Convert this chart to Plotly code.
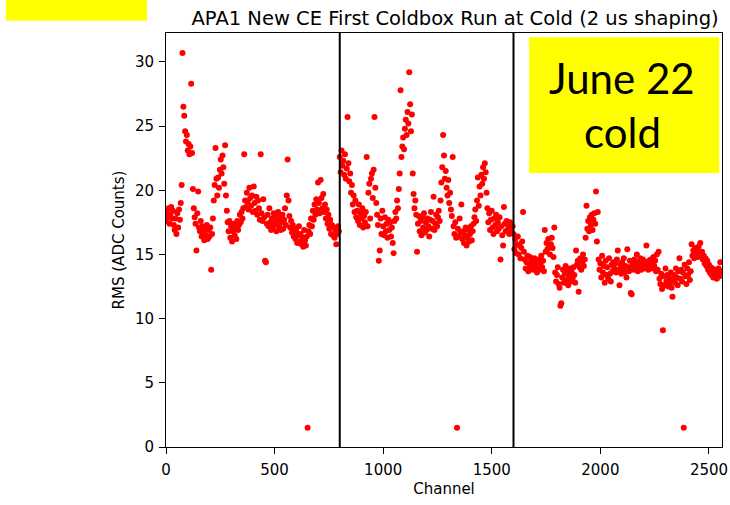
import plotly.graph_objects as go

# RMS noise (ADC counts) of every 4th channel, one list per wire plane
channel_step = 4
plane_starts = [0, 800, 1600]
plane_boundaries = [800, 1600]

u_plane_rms = [
    17.6, 18.3, 17.9, 18.6, 17.4, 18.1, 18.7, 17.8, 18.4, 17.3,   # 0-36
    16.9, 17.8, 16.6, 18.2, 17.1, 18.5, 17.7, 19.0, 20.4, 30.7,   # 40-76
    26.5, 25.8, 24.6, 23.8, 24.3, 23.1, 23.6, 22.8, 23.4, 28.3,   # 80-116
    22.9, 20.1, 18.6, 17.9, 17.4, 15.3, 18.2, 19.9, 17.1, 16.8,   # 120-156
    17.6, 16.4, 17.2, 16.7, 16.1, 17.0, 16.5, 17.3, 16.2, 16.9,   # 160-196
    16.4, 17.1, 13.8, 16.6, 17.8, 19.2, 20.4, 23.3, 20.9, 19.6,   # 200-236
    21.0, 20.2, 21.6, 22.4, 21.3, 22.7, 21.8, 20.5, 23.5, 19.6,   # 240-276
    18.4, 17.5, 16.8, 17.6, 16.3, 17.2, 16.0, 16.8, 17.4, 16.5,   # 280-316
    17.0, 16.2, 17.6, 16.9, 17.3, 18.1, 17.5, 18.3, 17.8, 18.6,   # 320-356
    22.8, 19.2, 18.7, 19.8, 19.1, 18.5, 20.2, 19.4, 18.8, 19.6,   # 360-396
    18.3, 20.3, 19.0, 18.4, 19.5, 18.1, 19.2, 18.6, 17.7, 22.8,   # 400-436
    18.2, 17.6, 19.3, 17.9, 14.5, 14.4, 17.4, 18.1, 17.2, 18.6,   # 440-476
    17.5, 16.9, 17.8, 17.1, 18.2, 17.4, 18.0, 16.8, 17.6, 18.3,   # 480-516
    17.2, 17.9, 16.9, 17.5, 18.1, 17.0, 17.7, 18.6, 17.3, 19.6,   # 520-556
    22.4, 19.2, 18.0, 17.1, 17.6, 16.7, 17.3, 16.4, 17.0, 16.2,   # 560-596
    16.8, 15.9, 16.5, 17.2, 16.0, 16.6, 15.8, 16.3, 15.6, 16.9,   # 600-636
    16.1, 15.7, 16.4, 1.5, 16.8, 17.3, 16.6, 17.8, 17.2, 18.4,    # 640-676
    17.7, 18.9, 18.1, 19.3, 18.5, 20.6, 19.0, 18.2, 20.8, 19.4,   # 680-716
    18.6, 19.7, 18.3, 18.9, 17.8, 18.5, 17.4, 18.1, 17.0, 17.7,   # 720-756
    16.6, 17.3, 16.5, 17.1, 16.3, 16.9, 15.8, 16.6, 17.2, 16.8,   # 760-796
]

v_plane_rms = [
    22.6, 21.4, 23.1, 21.9, 22.3, 21.2, 22.8, 20.9, 21.7, 25.7,   # 800-836
    22.1, 20.7, 21.3, 19.8, 20.4, 18.9, 19.6, 18.3, 19.2, 17.9,   # 840-876
    18.4, 17.6, 18.9, 17.3, 18.2, 17.8, 18.6, 17.1, 18.0, 17.5,   # 880-916
    18.3, 22.6, 17.2, 19.8, 20.5, 17.8, 20.9, 21.3, 19.4, 21.6,   # 920-956
    25.7, 20.2, 19.0, 18.1, 17.3, 14.5, 15.3, 17.8, 16.6, 18.4,   # 960-996
    17.2, 16.5, 17.9, 16.8, 17.4, 16.3, 17.7, 16.9, 17.5, 16.4,   # 1000-1036
    17.1, 15.9, 15.1, 17.6, 18.3, 17.8, 19.2, 18.6, 20.1, 21.3,   # 1040-1076
    27.8, 22.6, 23.4, 24.1, 23.2, 24.8, 25.5, 24.3, 26.1, 25.2,   # 1080-1116
    29.2, 26.7, 24.6, 25.9, 21.3, 19.7, 18.6, 19.2, 18.1, 15.2,   # 1120-1156
    17.4, 18.0, 16.8, 17.6, 16.5, 17.9, 17.1, 18.2, 16.7, 17.5,   # 1160-1196
    16.9, 17.8, 17.2, 16.4, 17.7, 18.3, 17.0, 17.6, 19.5, 16.9,   # 1200-1236
    17.4, 18.1, 17.2, 17.9, 18.4, 17.6, 19.2, 20.6, 21.8, 24.3,   # 1240-1276
    22.7, 20.9, 21.5, 20.2, 19.6, 20.8, 19.0, 19.8, 18.5, 18.0,   # 1280-1316
    22.6, 17.2, 16.6, 17.5, 16.3, 1.5, 17.0, 16.4, 17.8, 16.7,    # 1320-1356
    18.9, 16.2, 16.8, 15.9, 16.5, 17.1, 15.7, 16.3, 16.9, 16.0,   # 1360-1396
    16.6, 17.2, 16.1, 16.8, 17.4, 17.9, 18.5, 17.6, 19.2, 21.0,   # 1400-1436
    18.8, 20.3, 19.6, 21.2, 20.5, 21.8, 20.9, 22.1, 21.4, 19.8,   # 1440-1476
    18.6, 17.5, 18.2, 16.9, 17.7, 18.4, 17.1, 16.6, 17.8, 17.3,   # 1480-1516
    18.1, 16.8, 17.5, 17.0, 17.9, 14.6, 17.2, 16.5, 15.7, 18.7,   # 1520-1556
    17.4, 16.8, 17.6, 16.9, 17.3, 16.6, 17.5, 17.0, 16.7, 17.2,   # 1560-1596
]

x_plane_rms = [
    16.6, 15.4, 16.2, 15.1, 15.8, 16.4, 15.0, 15.7, 14.7, 15.5,   # 1600-1636
    16.0, 18.3, 15.2, 14.6, 13.9, 14.4, 14.9, 13.7, 14.3, 14.8,   # 1640-1676
    14.0, 14.5, 13.8, 14.2, 14.7, 13.9, 14.4, 13.6, 14.1, 14.6,   # 1680-1716
    13.8, 14.3, 14.9, 14.0, 14.5, 13.7, 16.9, 15.2, 15.9, 15.4,   # 1720-1756
    16.2, 15.6, 15.0, 15.8, 16.3, 15.5, 14.8, 17.1, 13.6, 12.9,   # 1760-1796
    13.4, 14.0, 12.7, 12.4, 11.0, 11.2, 13.2, 13.8, 12.8, 13.5,   # 1800-1836
    14.1, 13.0, 13.7, 12.6, 13.3, 13.9, 12.9, 13.6, 13.1, 14.0,   # 1840-1876
    13.4, 12.8, 15.3, 14.2, 14.5, 12.1, 14.0, 14.7, 13.8, 14.4,   # 1880-1916
    15.0, 14.1, 14.6, 16.3, 18.8, 17.0, 17.6, 16.8, 17.9, 17.3,   # 1920-1956
    18.1, 16.9, 17.7, 18.2, 17.4, 19.9, 16.0, 18.3, 14.6, 13.8,   # 1960-1996
    14.3, 13.2, 14.9, 13.6, 14.1, 12.8, 14.5, 13.4, 14.0, 13.1,   # 2000-2036
    14.7, 13.5, 12.9, 14.2, 13.7, 14.4, 13.9, 14.3, 13.6, 14.6,   # 2040-2076
    15.3, 13.8, 12.6, 14.2, 13.5, 14.4, 13.9, 14.7, 13.6, 14.1,   # 2080-2116
    13.2, 15.4, 14.0, 13.7, 14.5, 12.0, 11.9, 14.2, 13.8, 14.6,   # 2120-2156
    13.9, 14.3, 15.0, 13.7, 14.4, 14.0, 14.7, 13.8, 14.2, 14.6,   # 2160-2196
    13.9, 14.4, 14.1, 15.7, 14.3, 13.8, 14.5, 14.0, 14.6, 13.9,   # 2200-2236
    14.3, 14.8, 14.1, 14.5, 13.7, 15.0, 13.8, 15.2, 13.1, 12.7,   # 2240-2276
    13.5, 12.3, 9.1, 13.3, 12.6, 13.9, 12.9, 13.4, 12.5, 13.2,    # 2280-2316
    12.8, 13.6, 12.4, 11.7, 13.0, 13.4, 12.8, 13.9, 13.2, 12.6,   # 2320-2356
    13.7, 14.7, 13.1, 13.8, 12.9, 13.6, 1.5, 14.2, 13.3, 12.7,    # 2360-2396
    13.9, 13.4, 14.4, 13.0, 13.7, 15.8, 14.9, 15.3, 14.7, 15.5,   # 2400-2436
    15.0, 15.4, 14.8, 15.6, 15.1, 15.9, 14.9, 15.2, 14.6, 14.9,   # 2440-2476
    14.3, 14.7, 14.1, 14.5, 13.8, 14.2, 13.6, 14.0, 13.4, 13.9,   # 2480-2516
    13.2, 13.7, 13.3, 13.8, 13.1, 13.6, 13.9, 13.3, 14.4, 13.7,   # 2520-2556
]

x_tick_vals = [0, 500, 1000, 1500, 2000, 2500]
y_tick_vals = [0, 5, 10, 15, 20, 25, 30]
x_limits = [0, 2560]
y_limits = [0, 32.25]

title_text = "APA1 New CE First Coldbox Run at Cold (2 us shaping)"
note_lines = ["June 22", "cold"]

channels, rms = [], []
for start, values in zip(plane_starts, [u_plane_rms, v_plane_rms, x_plane_rms]):
    channels.extend(start + channel_step * i for i in range(len(values)))
    rms.extend(values)

base_font = dict(family="DejaVu Sans", size=15, color="black")

fig = go.Figure()
fig.add_trace(go.Scatter(
    x=channels, y=rms, mode="markers",
    marker=dict(color="#ff0000", size=6, line=dict(width=0)),
    hoverinfo="x+y", showlegend=False,
))

# plane boundaries
for xb in plane_boundaries:
    fig.add_shape(type="line", xref="x", yref="paper", x0=xb, x1=xb, y0=0, y1=1,
                  line=dict(color="black", width=2), layer="above")

# yellow note box inside the axes
fig.add_shape(type="rect", xref="paper", yref="paper",
              x0=0.653, x1=0.995, y0=0.662, y1=0.990,
              fillcolor="#ffff00", line=dict(width=0), layer="above")
# yellow tag in the upper-left corner of the figure
fig.add_shape(type="rect", xref="paper", yref="paper",
              x0=-0.288, x1=-0.034, y0=1.0297, y1=1.0797,
              fillcolor="#ffff00", line=dict(width=0), layer="above")

for text, ypos in zip(note_lines, [0.891, 0.761]):
    fig.add_annotation(text=text, xref="paper", yref="paper", x=0.821, y=ypos,
                       xanchor="center", yanchor="middle", showarrow=False,
                       font=dict(family="Lato", size=42, color="black"))

axis_common = dict(
    showline=True, linecolor="black", linewidth=1, mirror=True,
    ticks="outside", ticklen=6, tickwidth=1, tickcolor="black",
    showgrid=False, zeroline=False, tickfont=base_font, automargin=False,
)

fig.update_layout(
    width=730, height=505,
    margin=dict(l=166, r=8, t=33, b=58),
    paper_bgcolor="white", plot_bgcolor="white",
    font=base_font,
    title=dict(text=title_text, x=0.52, xref="paper", xanchor="center",
               y=0.964, yref="container", yanchor="middle",
               font=dict(family="DejaVu Sans", size=19.5, color="black")),
    xaxis=dict(range=x_limits, tickvals=x_tick_vals, ticklabelstandoff=3, **axis_common,
               title=dict(text="Channel", font=base_font, standoff=5)),
    yaxis=dict(range=y_limits, tickvals=y_tick_vals, ticklabelstandoff=2, **axis_common,
               title=dict(text="RMS (ADC Counts)", font=base_font, standoff=6)),
)

fig.write_html("out.html")
